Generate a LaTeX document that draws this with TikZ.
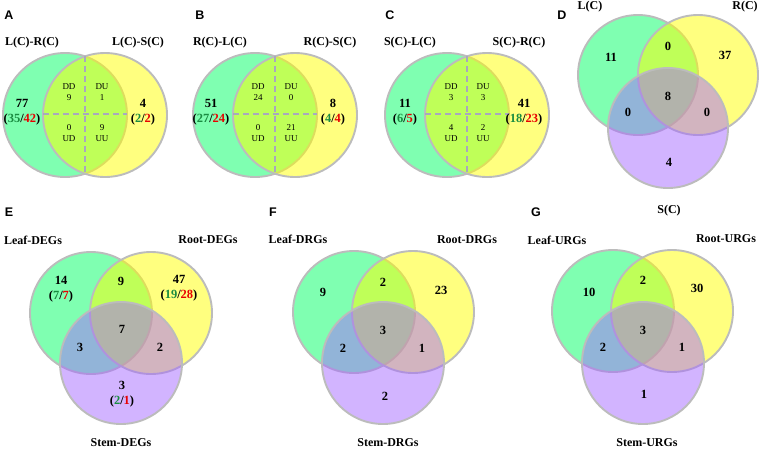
\documentclass[tikz,border=0pt]{standalone}
\usepackage{fontspec}
\setmainfont{Liberation Serif}
\newfontfamily\panelfont{Liberation Sans}
\usepackage{tikz}
\usetikzlibrary{positioning}
\definecolor{vgreen}{RGB}{0,255,100}
\definecolor{vyellow}{RGB}{255,255,0}
\definecolor{vpurple}{RGB}{165,105,255}
\definecolor{vborder}{RGB}{188,188,188}
\definecolor{vdash}{RGB}{168,168,190}
\definecolor{dngreen}{RGB}{25,140,65}
\definecolor{upred}{RGB}{232,0,0}
\tikzset{
    venn/.style={circle, inner sep=0pt, minimum size=124pt, draw=vborder, line width=1.9pt, fill opacity=0.5},
    leafset/.style={venn, fill=vgreen},
    rootset/.style={venn, fill=vyellow},
    stemset/.style={venn, fill=vpurple},
    split/.style={draw=vdash, line width=1.2pt, dash pattern=on 6pt off 4pt},
    head/.style={font=\bfseries\fontsize{12}{14}\selectfont},
    count/.style={align=center, font=\bfseries\fontsize{12.5}{15}\selectfont},
    cell/.style={align=center, font=\fontsize{9}{11}\selectfont},
    panel/.style={font=\panelfont\bfseries\fontsize{12.5}{14}\selectfont}
}
\newcommand{\dnup}[2]{(\textcolor{dngreen}{#1}/\textcolor{upred}{#2})}

\begin{document}
\begin{tikzpicture}[x=1pt, y=-1pt]
    \useasboundingbox (0,0) rectangle (763,451);

    % Panel A
    \node[panel] (pA) at (9,15) {A};
    \node[leafset] (Aleft) at (65,115) {};
    \node[rootset] (Aright) at (105,115) {};
    \coordinate (Atop) at (85,56);
    \coordinate (Abot) at (85,174);
    \coordinate (Awest) at (43,114);
    \coordinate (Aeast) at (127,114);
    \draw[split] (Atop) -- (Abot);
    \draw[split] (Awest) -- (Aeast);
    \node[head] (Ahl) at (32,43) {L(C)-R(C)};
    \node[head] (Ahr) at (138,43) {L(C)-S(C)};
    \node[count] (Acl) at (22,112.5) {77\\\dnup{35}{42}};
    \node[count] (Acr) at (143,112.5) {4\\\dnup{2}{2}};
    \node[cell] (Add) at (69,92.5) {DD\\9};
    \node[cell] (Adu) at (102,92.5) {DU\\1};
    \node[cell] (Aud) at (69,133) {0\\UD};
    \node[cell] (Auu) at (102,133) {9\\UU};

    % Panel B
    \node[panel] (pB) at (200,15) {B};
    \node[leafset] (Bleft) at (255,115) {};
    \node[rootset] (Bright) at (295,115) {};
    \coordinate (Btop) at (275,56);
    \coordinate (Bbot) at (275,174);
    \coordinate (Bwest) at (233,114);
    \coordinate (Beast) at (317,114);
    \draw[split] (Btop) -- (Bbot);
    \draw[split] (Bwest) -- (Beast);
    \node[head] (Bhl) at (220,43) {R(C)-L(C)};
    \node[head] (Bhr) at (330,43) {R(C)-S(C)};
    \node[count] (Bcl) at (211,112.5) {51\\\dnup{27}{24}};
    \node[count] (Bcr) at (333,112.5) {8\\\dnup{4}{4}};
    \node[cell] (Bdd) at (258,92.5) {DD\\24};
    \node[cell] (Bdu) at (291,92.5) {DU\\0};
    \node[cell] (Bud) at (258,133) {0\\UD};
    \node[cell] (Buu) at (291,133) {21\\UU};

    % Panel C
    \node[panel] (pC) at (390,15) {C};
    \node[leafset] (Cleft) at (447,115) {};
    \node[rootset] (Cright) at (487,115) {};
    \coordinate (Ctop) at (467,56);
    \coordinate (Cbot) at (467,174);
    \coordinate (Cwest) at (425,114);
    \coordinate (Ceast) at (509,114);
    \draw[split] (Ctop) -- (Cbot);
    \draw[split] (Cwest) -- (Ceast);
    \node[head] (Chl) at (410,43) {S(C)-L(C)};
    \node[head] (Chr) at (519,43) {S(C)-R(C)};
    \node[count] (Ccl) at (405,112.5) {11\\\dnup{6}{5}};
    \node[count] (Ccr) at (524,112.5) {41\\\dnup{18}{23}};
    \node[cell] (Cdd) at (451,92.5) {DD\\3};
    \node[cell] (Cdu) at (483,92.5) {DU\\3};
    \node[cell] (Cud) at (451,133) {4\\UD};
    \node[cell] (Cuu) at (483,133) {2\\UU};

    % Panel D
    \node[panel] (pD) at (562,15) {D};
    \node[leafset, minimum size=120pt] (Dleaf) at (638,75) {};
    \node[rootset, minimum size=120pt] (Droot) at (698,75) {};
    \node[stemset, minimum size=120pt] (Dstem) at (668,128) {};
    \node[head] (Dhl) at (590,7) {L(C)};
    \node[head] (Dhr) at (745,7) {R(C)};
    \node[head] (Dhs) at (669,211) {S(C)};
    \node[count] (Dl) at (611,57) {11};
    \node[count] (Dlr) at (668,46) {0};
    \node[count] (Dr) at (725,55) {37};
    \node[count] (Dall) at (668,96) {8};
    \node[count] (Dls) at (628,112) {0};
    \node[count] (Drs) at (707,112) {0};
    \node[count] (Ds) at (669,162) {4};

    % Panel E
    \node[panel] (pE) at (9,212) {E};
    \node[leafset, minimum size=122pt] (Eleaf) at (91,313) {};
    \node[rootset, minimum size=122pt] (Eroot) at (151,313) {};
    \node[stemset, minimum size=122pt] (Estem) at (121,363) {};
    \node[head] (Ehl) at (33,240) {Leaf-DEGs};
    \node[head] (Ehr) at (208,240) {Root-DEGs};
    \node[head] (Ehs) at (121,443) {Stem-DEGs};
    \node[count] (El) at (61,289.5) {14\\\dnup{7}{7}};
    \node[count] (Elr) at (121,281) {9};
    \node[count] (Er) at (179,288.5) {47\\\dnup{19}{28}};
    \node[count] (Eall) at (122,329) {7};
    \node[count] (Els) at (80,347) {3};
    \node[count] (Ers) at (160,347) {2};
    \node[count] (Es) at (122,394.5) {3\\\dnup{2}{1}};

    % Panel F
    \node[panel] (pF) at (273,212) {F};
    \node[leafset, minimum size=122pt] (Fleaf) at (354,312) {};
    \node[rootset, minimum size=122pt] (Froot) at (413,312) {};
    \node[stemset, minimum size=122pt] (Fstem) at (383,363) {};
    \node[head] (Fhl) at (298,239) {Leaf-DRGs};
    \node[head] (Fhr) at (467,240) {Root-DRGs};
    \node[head] (Fhs) at (388,443) {Stem-DRGs};
    \node[count] (Fl) at (323,292) {9};
    \node[count] (Flr) at (383,282) {2};
    \node[count] (Fr) at (441,290) {23};
    \node[count] (Fall) at (383,330) {3};
    \node[count] (Fls) at (343,348) {2};
    \node[count] (Frs) at (422,348) {1};
    \node[count] (Fs) at (385,396) {2};

    % Panel G
    \node[panel] (pG) at (536,212) {G};
    \node[leafset, minimum size=122pt] (Gleaf) at (613,311) {};
    \node[rootset, minimum size=122pt] (Groot) at (672,311) {};
    \node[stemset, minimum size=122pt] (Gstem) at (643,363) {};
    \node[head] (Ghl) at (557,240) {Leaf-URGs};
    \node[head] (Ghr) at (726,239) {Root-URGs};
    \node[head] (Ghs) at (647,443) {Stem-URGs};
    \node[count] (Gl) at (589,292) {10};
    \node[count] (Glr) at (643,280) {2};
    \node[count] (Gr) at (697,288) {30};
    \node[count] (Gall) at (643,330) {3};
    \node[count] (Gls) at (603,347) {2};
    \node[count] (Grs) at (682,347) {1};
    \node[count] (Gs) at (644,394) {1};
\end{tikzpicture}
\end{document}
